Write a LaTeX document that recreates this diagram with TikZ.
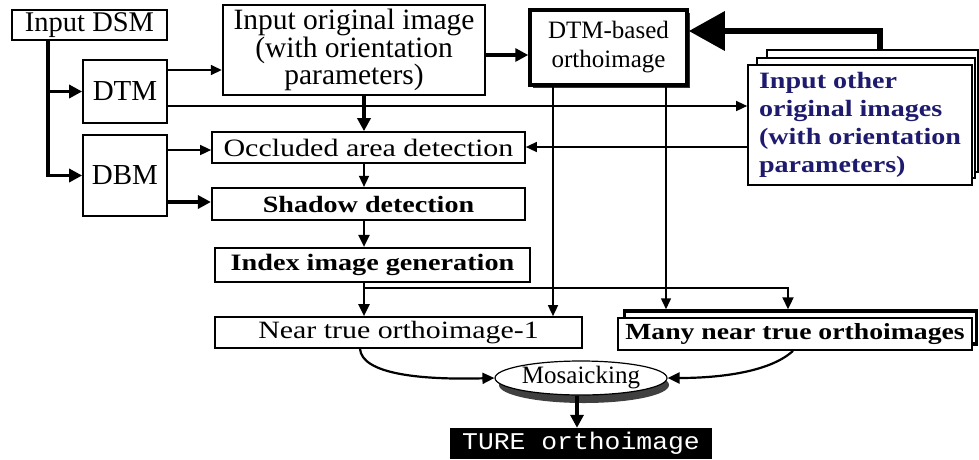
\documentclass[tikz,border=0pt]{standalone}
\usepackage{fontspec}
\setmainfont{Liberation Serif}[FakeStretch=1.2]
\newfontfamily\plainserif{Liberation Serif}
\newfontfamily\turefont{Liberation Mono}[FakeStretch=1.1]
\usetikzlibrary{arrows.meta,shapes.geometric,calc}
\definecolor{navytext}{HTML}{1E1A6E}
\newcommand\fsz[2]{\fontsize{#1}{#2}\selectfont}

\begin{document}
\begin{tikzpicture}[x=1pt,y=-1pt,
  box/.style={draw=black,line width=1.7pt,fill=white,inner sep=0pt,align=center},
  thinarrow/.style={line width=1.5pt,-{Triangle[length=11pt,width=10pt]}},
  midarrow/.style={line width=2.2pt,-{Triangle[length=12pt,width=11pt]}},
  thickarrow/.style={line width=3.5pt,-{Triangle[length=13pt,width=13pt]}},
  bigarrow/.style={line width=6.5pt,-{Triangle[length=36pt,width=38pt]}}]
\useasboundingbox (0,0) rectangle (979,459);

% --- boxes ---
\node[box,minimum width=155pt,minimum height=30pt,font=\plainserif\fsz{28.5}{30}] (dsm) at (89.5,25) {Input DSM};
\node[box,minimum width=84pt,minimum height=63pt,font=\plainserif\fsz{29}{30}] (dtm) at (125,91.5) {DTM};
\node[box,minimum width=84pt,minimum height=81pt,font=\plainserif\fsz{29}{30}] (dbm) at (125,175.5) {DBM};
\node[box,line width=2.4pt,minimum width=262pt,minimum height=90pt,font=\plainserif\fsz{29.5}{26.5}] (inorig) at (354,50)
  {Input original image\\(with orientation\\parameters)};

% DTM-based orthoimage with its drop shadow
\fill[black!80] (533,13) rectangle (690,88);
\node[box,line width=3.5pt,minimum width=157pt,minimum height=75pt,font=\plainserif\fsz{25}{29}] (dtmortho) at (608.5,47.5)
  {DTM-based\\orthoimage};

% stack of other original images
\node[box,minimum width=211pt,minimum height=122pt] (other3) at (872.5,111) {};
\node[box,minimum width=218pt,minimum height=120pt] (other2) at (866,118) {};
\node[box,minimum width=224pt,minimum height=120pt,align=left,text=navytext,font=\bfseries\fsz{23.4}{28}] (other) at (860,125)
  {Input other\\original images\\(with orientation\\parameters)};

\node[box,minimum width=313pt,minimum height=31pt,font=\fsz{25}{26}] (occl) at (368.5,147.5) {Occluded area detection};
\node[box,line width=2.2pt,minimum width=313pt,minimum height=32pt,font=\bfseries\fsz{23.4}{26}] (shadow) at (368.5,204) {Shadow detection};
\node[box,line width=2.2pt,minimum width=315pt,minimum height=34pt,font=\bfseries\fsz{23.5}{26}] (index) at (372.5,265) {Index image generation};
\node[box,minimum width=367pt,minimum height=31pt,font=\fsz{24.9}{26}] (near1) at (398.5,332.5) {Near true orthoimage-1};

% stack of many near true orthoimages
\node[box,line width=3.5pt,minimum width=352pt,minimum height=33pt] (manyback) at (800.5,327.5) {};
\node[box,minimum width=354pt,minimum height=32pt,font=\bfseries\fsz{23.1}{26}] (many) at (795,334) {Many near true orthoimages};

% mosaicking ellipse with shadow
\fill[black!75] (584,385) ellipse (85pt and 18pt);
\node[ellipse,draw=black,line width=1.2pt,fill=white,inner sep=0pt,minimum width=172pt,minimum height=34pt,font=\plainserif\fsz{25}{26}] (mosaic) at (581,378) {Mosaicking};

\node[fill=black,text=white,inner sep=0pt,minimum width=262pt,minimum height=31pt,font=\turefont\fsz{24}{26}] (ture) at (581,443.5) {TURE orthoimage};

% --- helper coordinates for connector columns and rows ---
\coordinate (xd) at (48,0);
\coordinate (xa) at (364,0);
\coordinate (xo1) at (553,0);
\coordinate (xo2) at (666,0);
\coordinate (xm) at (788,0);
\coordinate (xbig) at (880,0);
\coordinate (xn) at (360,0);
\coordinate (xmo) at (793,0);
\coordinate (xt) at (577,0);
\coordinate (y70) at (0,70);
\coordinate (y106) at (0,106);
\coordinate (y55) at (0,55);
\coordinate (y31) at (0,31);
\coordinate (y147) at (0,147);
\coordinate (y150) at (0,150);
\coordinate (y202) at (0,202);
\coordinate (ybr) at (0,288);

% --- connectors ---
\draw[line width=3.5pt] (dsm.south -| xd) -- (dtm.west -| xd);
\draw[thickarrow] (dtm.west -| xd) -- (dtm.west);
\draw[thickarrow] (dtm.west -| xd) |- (dbm.west);

\draw[thinarrow] (dtm.east |- y70) -- (inorig.west |- y70);
\draw[thinarrow] (dtm.east |- y106) -- (other.west |- y106);
\draw[thickarrow] (inorig.east |- y55) -- (dtmortho.west |- y55);
\draw[bigarrow] (other3.north -| xbig) |- (dtmortho.east |- y31);

\draw[thinarrow] (other.west |- y147) -- (occl.east |- y147);
\draw[thinarrow] (dbm.east |- y150) -- (occl.west |- y150);
\draw[thickarrow] (dbm.east |- y202) -- (shadow.west |- y202);

\draw[thickarrow] (inorig.south -| xa) -- (occl.north -| xa);
\draw[thinarrow] (occl.south -| xa) -- (shadow.north -| xa);
\draw[midarrow] (shadow.south -| xa) -- (index.north -| xa);
\draw[midarrow] (index.south -| xa) -- (near1.north -| xa);
\draw[midarrow] (index.south -| xa) |- (ybr -| xm) -- (manyback.north -| xm);

\draw[thinarrow] (dtmortho.south -| xo1) -- (near1.north -| xo1);
\draw[thinarrow] (dtmortho.south -| xo2) -- (manyback.north -| xo2);

\draw[midarrow] (near1.south -| xn) .. controls (362,374) and (420,380) .. (mosaic.west);
\draw[midarrow] (many.south -| xmo) .. controls (770,372) and (720,378) .. (mosaic.east);
\draw[thickarrow] (mosaic.south -| xt) -- (ture.north -| xt);
\end{tikzpicture}
\end{document}
